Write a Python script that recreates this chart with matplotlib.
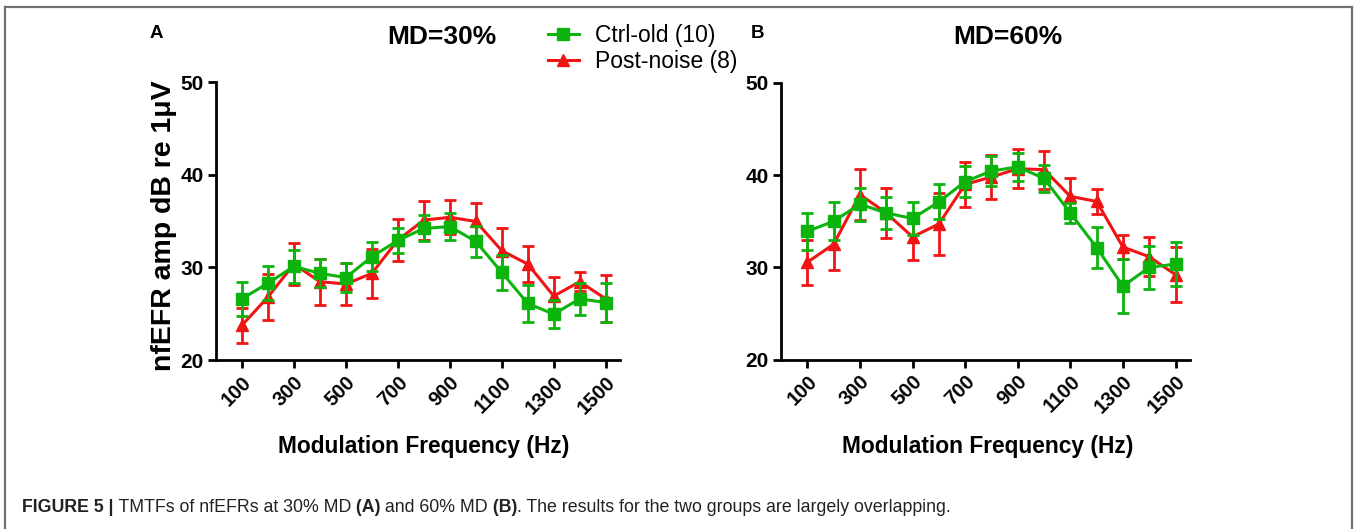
import matplotlib
matplotlib.use("Agg")
import matplotlib.pyplot as plt
from matplotlib.lines import Line2D

plt.rcParams['font.family'] = ['Liberation Sans', 'DejaVu Sans']

# ---------------- data ----------------
freqs = [100, 200, 300, 400, 500, 600, 700, 800, 900, 1000, 1100, 1200, 1300, 1400, 1500]
tick_freqs = [100, 300, 500, 700, 900, 1100, 1300, 1500]
y_ticks = [20, 30, 40, 50]

a_ctrl = [26.6, 28.3, 30.1, 29.35, 28.9, 31.15, 32.9, 34.2, 34.4, 32.8, 29.45, 26.1, 24.95, 26.6, 26.2]
a_ctrl_err = [1.8, 1.85, 1.8, 1.5, 1.6, 1.55, 1.3, 1.4, 1.5, 1.65, 1.9, 1.95, 1.55, 1.7, 2.1]
a_noise = [23.75, 26.8, 30.35, 28.45, 28.2, 29.35, 32.95, 35.1, 35.4, 34.95, 31.8, 30.35, 26.9, 28.45, 26.6]
a_noise_err = [1.9, 2.5, 2.25, 2.5, 2.3, 2.65, 2.25, 2.1, 1.85, 1.95, 2.4, 1.95, 2.05, 1.05, 2.55]

b_ctrl = [33.9, 35.0, 36.85, 35.9, 35.3, 37.1, 39.3, 40.45, 40.9, 39.65, 35.9, 32.15, 27.95, 30.0, 30.35]
b_ctrl_err = [2.0, 2.05, 1.8, 1.75, 1.75, 1.9, 1.7, 1.6, 1.5, 1.45, 1.05, 2.25, 2.9, 2.3, 2.35]
b_noise = [30.55, 32.5, 37.9, 35.9, 33.3, 34.7, 39.0, 39.8, 40.7, 40.6, 37.7, 37.15, 32.2, 31.15, 29.2]
b_noise_err = [2.45, 2.75, 2.8, 2.7, 2.5, 3.35, 2.45, 2.35, 2.1, 2.05, 2.0, 1.35, 1.3, 2.1, 3.0]

labels = ["Ctrl-old (10)", "Post-noise (8)"]
titles = ["MD=30%", "MD=60%"]
panel_letters = ["A", "B"]
ylabel = "nfEFR amp dB re 1\u03bcV"
xlabel = "Modulation Frequency (Hz)"
caption_parts = [("FIGURE 5 |", True),
                 (" TMTFs of nfEFRs at 30% MD", False),
                 (" (A)", True),
                 (" and 60% MD", False),
                 (" (B)", True),
                 (". The results for the two groups are largely overlapping.", False)]

GREEN = '#0db40d'
RED = '#f01414'

W, H = 1354, 529
fig = plt.figure(figsize=(W / 100, H / 100), dpi=100)

def fx(px):
    return px / W

def fy(py):
    return 1 - py / H

# axes positions (pixel boxes)
boxes = [(216, 82, 620, 360), (781, 83, 1190, 359.5)]
data = [(a_ctrl, a_ctrl_err, a_noise, a_noise_err), (b_ctrl, b_ctrl_err, b_noise, b_noise_err)]

axes = []
for (l, t, r, b), (c, ce, n, ne) in zip(boxes, data):
    ax = fig.add_axes([fx(l), fy(b), fx(r - l), (b - t) / H])
    ax.errorbar(freqs, n, yerr=ne, color=RED, lw=2.2, marker='^', ms=9,
                capsize=4.5, capthick=2, elinewidth=2, zorder=3, clip_on=False)
    ax.errorbar(freqs, c, yerr=ce, color=GREEN, lw=2.2, marker='s', ms=9,
                capsize=4.5, capthick=2, elinewidth=2, zorder=4, clip_on=False)
    ax.set_xlim(0, 1555)
    ax.set_ylim(20, 50)
    ax.set_yticks(y_ticks)
    ax.set_xticks(tick_freqs)
    ax.set_xticklabels([str(v) for v in tick_freqs], rotation=45, ha='right',
                       va='top', rotation_mode='anchor', fontweight='bold', fontsize=14.5)
    ax.set_yticklabels([str(v) for v in y_ticks], fontweight='bold', fontsize=15)
    for s in ['top', 'right']:
        ax.spines[s].set_visible(False)
    for s in ['left', 'bottom']:
        ax.spines[s].set_linewidth(2)
    ax.tick_params(direction='out', length=6, width=2, pad=3)
    axes.append(ax)

# titles and panel letters
fig.text(fx(442), fy(37), titles[0], ha='center', va='center', fontsize=19, fontweight='bold')
fig.text(fx(1008), fy(37), titles[1], ha='center', va='center', fontsize=19, fontweight='bold')
fig.text(fx(156), fy(33), panel_letters[0], ha='center', va='center', fontsize=13.5, fontweight='bold')
fig.text(fx(758), fy(33), panel_letters[1], ha='center', va='center', fontsize=13.5, fontweight='bold')

# axis labels
fig.text(fx(164), fy(226), ylabel, rotation=90, ha='center', va='center', fontsize=20.5, fontweight='bold')
fig.text(fx(424), fy(447), xlabel, ha='center', va='center', fontsize=16.4, fontweight='bold')
fig.text(fx(988), fy(447), xlabel, ha='center', va='center', fontsize=16.4, fontweight='bold')

# legend
handles = [Line2D([], [], color=GREEN, lw=2.2, marker='s', ms=8),
           Line2D([], [], color=RED, lw=2.2, marker='^', ms=8)]
fig.legend(handles, labels, loc='upper left', bbox_to_anchor=(fx(548), fy(24)),
           frameon=False, fontsize=16.5, handlelength=1.35, handletextpad=0.7,
           labelspacing=0.12, borderpad=0, borderaxespad=0)

# outer frame
fr = dict(color='#707070', lw=1.6, transform=fig.transFigure)
fig.add_artist(Line2D([fx(5), fx(1352)], [fy(7), fy(7)], **fr))
fig.add_artist(Line2D([fx(5), fx(5)], [fy(7), -0.05], **fr))
fig.add_artist(Line2D([fx(1352), fx(1352)], [fy(7), -0.05], **fr))

# caption (mixed bold / regular)
renderer = fig.canvas.get_renderer()
xpos = 22
for txt, bold in caption_parts:
    t = fig.text(fx(xpos), fy(508), txt, ha='left', va='center', fontsize=12.8,
                 fontweight='bold' if bold else 'normal', color='#222222')
    bb = t.get_window_extent(renderer)
    xpos = bb.x1

fig.savefig('out.png', dpi=100)
